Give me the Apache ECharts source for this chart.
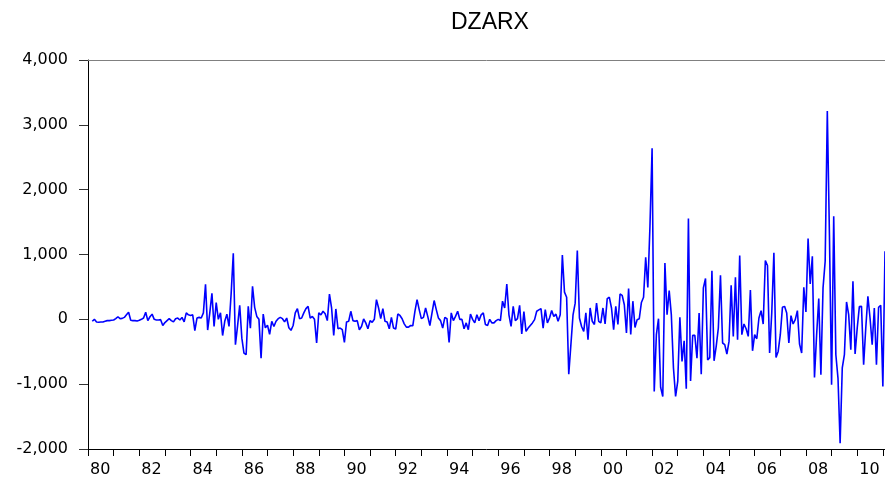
<!DOCTYPE html>
<html>
<head>
<meta charset="utf-8">
<script src="https://cdn.jsdelivr.net/npm/echarts@6/dist/echarts.min.js"></script>
<style>
	html, body { margin: 0; padding: 0; background: #fff; }
	#chart { width: 885px; height: 481px; }
</style>
</head>
<body>
<div id="chart"></div>
<script>
// 月度数据 1980M01 - 2011M02
var startYear = 1980;
var yearLabels = ['80', '82', '84', '86', '88', '90', '92', '94', '96', '98', '00', '02', '04', '06', '08', '10'];
var yTicks = [-2000, -1000, 0, 1000, 2000, 3000, 4000];

var vals80to84 = ['-', '-', -30, 0, -40, -45, -40, -40, -30, -20, -20, -15,
	-10, 10, 40, 10, 15, 30, 70, 110, -15, -20, -20, -25,
	-15, 0, 20, 110, -20, 40, 80, 0, -10, -10, -5, -95,
	-50, -20, 10, -20, -40, 10, 20, -10, 30, -40, 100, 70,
	60, 70, -175, 20, 30, 20, 100, 540, -165, 100, 400, -110];
var vals85to89 = [260, 0, 100, -250, -30, 80, -110, 400, 1020, -390, -100, 216,
	-290, -520, -545, 200, -135, 510, 185, 45, 0, -600, 82, -130,
	-90, -230, -30, -110, -30, 10, 30, 10, -40, 20, -130, -170,
	-95, 100, 165, 10, 20, 100, 165, 200, 20, 45, 0, -365,
	100, 70, 125, 85, -20, 390, 175, -247, 160, -145, -135, -160];
var vals90to94 = [-355, -40, -30, 124, -20, -30, -20, -160, -110, 5, -55, -145,
	-20, -45, 0, 304, 175, 10, 165, -30, -40, -145, 30, -135,
	-150, 82, 60, 10, -70, -120, -120, -95, -100, 124, 304, 150,
	10, 30, 175, 45, -95, 100, 290, 150, 20, -20, -135, 30,
	10, -355, 100, -20, 45, 124, 0, 0, -145, -55, -160, 82];
var vals95to99 = [0, -55, 70, -20, 70, 100, -80, -95, 0, -55, -55, -20,
	0, -20, 280, 175, 545, 70, -110, 200, -20, 10, 216, -225,
	120, -185, -135, -95, -55, -5, 124, 145, 165, -135, 150, -55,
	20, 135, 45, 80, -30, 70, 990, 420, 340, -845, -390, 70,
	250, 1060, 20, -110, -185, 100, -315, 175, -30, -80, 250, -30];
var vals00to04 = [-55, 175, -70, 320, 340, 175, -160, 200, -80, 390, 370, 225,
	-210, 475, -235, 280, -125, -5, 10, 260, 340, 958, 490, 1440,
	2637, -1112, -237, 10, -1050, -1190, 870, 72, 443, 72, -750, -1190,
	-958, 30, -650, -330, -1070, 1555, -950, -247, -247, -600, 98, -845,
	485, 630, -625, -590, 750, -640, -417, -134, 680, -365, -390, -535];
var vals05to11 = [-340, 525, -263, 650, -315, 985, -237, -72, -145, -263, 453, -485,
	-237, -300, 20, 134, -72, 906, 830, -520, 100, 1025, -587, -495,
	-237, 185, 200, 98, -365, 57, -72, -5, 134, -380, -520, 495,
	113, 1246, 546, 973, -896, -237, 320, -855, 485, 896, 3214, 1300,
	-1010, 1590, -546, -906, -1910, -750, -546, 268, 72, -470, 587, -535,
	-134, 196, 200, -700, -134, 355, 20, -390, 175, -700, 185, 216,
	-1035, 1050];

var values = [].concat(vals80to84, vals85to89, vals90to94, vals95to99, vals00to04, vals05to11);

var months = [];
for (var i = 0; i < values.length; i++) {
	var y = startYear + Math.floor(i / 12);
	var m = i % 12 + 1;
	months.push(y + 'M' + (m < 10 ? '0' + m : m));
}

function fmtNum(v) { //千位分隔
	var s = String(Math.abs(v)).replace(/\B(?=(\d{3})+(?!\d))/g, ',');
	return (v < 0 ? '-' : '') + s;
}

var myChart = echarts.init(document.getElementById('chart'));
var option = {
	animation: false,
	title: {
		text: 'DZARX',
		left: 446,
		top: 6,
		textStyle: {
			fontFamily: 'Liberation Sans',
			fontSize: 23,
			fontWeight: 'normal',
			color: '#000'
		}
	},
	grid: {
		left: 88,
		right: -2,
		top: 60,
		bottom: 32
	},
	xAxis: [{
		type: 'category',
		data: months,
		boundaryGap: false,
		axisLine: {
			onZero: false,
			lineStyle: { color: '#000', width: 1 }
		},
		axisTick: {
			show: true,
			interval: 11,
			length: 7,
			lineStyle: { color: '#000', width: 1 }
		},
		axisLabel: {
			interval: 23,
			align: 'left',
			padding: [0, 0, 0, 2],
			margin: 13,
			fontFamily: 'DejaVu Sans',
			fontSize: 16,
			color: '#000',
			formatter: function(val, idx) {
				return yearLabels[Math.round(idx / 24)];
			}
		},
		splitLine: { show: false }
	}, { //顶部边框
		type: 'category',
		position: 'top',
		data: months,
		boundaryGap: false,
		axisLine: {
			show: true,
			onZero: false,
			lineStyle: { color: '#808080', width: 1 }
		},
		axisTick: { show: false },
		axisLabel: { show: false },
		splitLine: { show: false }
	}],
	yAxis: {
		type: 'value',
		min: yTicks[0],
		max: yTicks[yTicks.length - 1],
		interval: 1000,
		axisLine: {
			show: true,
			onZero: false,
			lineStyle: { color: '#000', width: 1 }
		},
		axisTick: {
			show: true,
			length: 9,
			lineStyle: { color: '#333', width: 1 }
		},
		axisLabel: {
			margin: 20,
			fontFamily: 'DejaVu Sans',
			fontSize: 16,
			color: '#000',
			formatter: fmtNum
		},
		splitLine: { show: false }
	},
	series: [{
		type: 'line',
		xAxisIndex: 0,
		data: values,
		showSymbol: false,
		connectNulls: false,
		lineStyle: {
			color: '#0000ff',
			width: 1.6
		},
		itemStyle: { color: '#0000ff' }
	}]
};
myChart.setOption(option);
</script>
</body>
</html>
